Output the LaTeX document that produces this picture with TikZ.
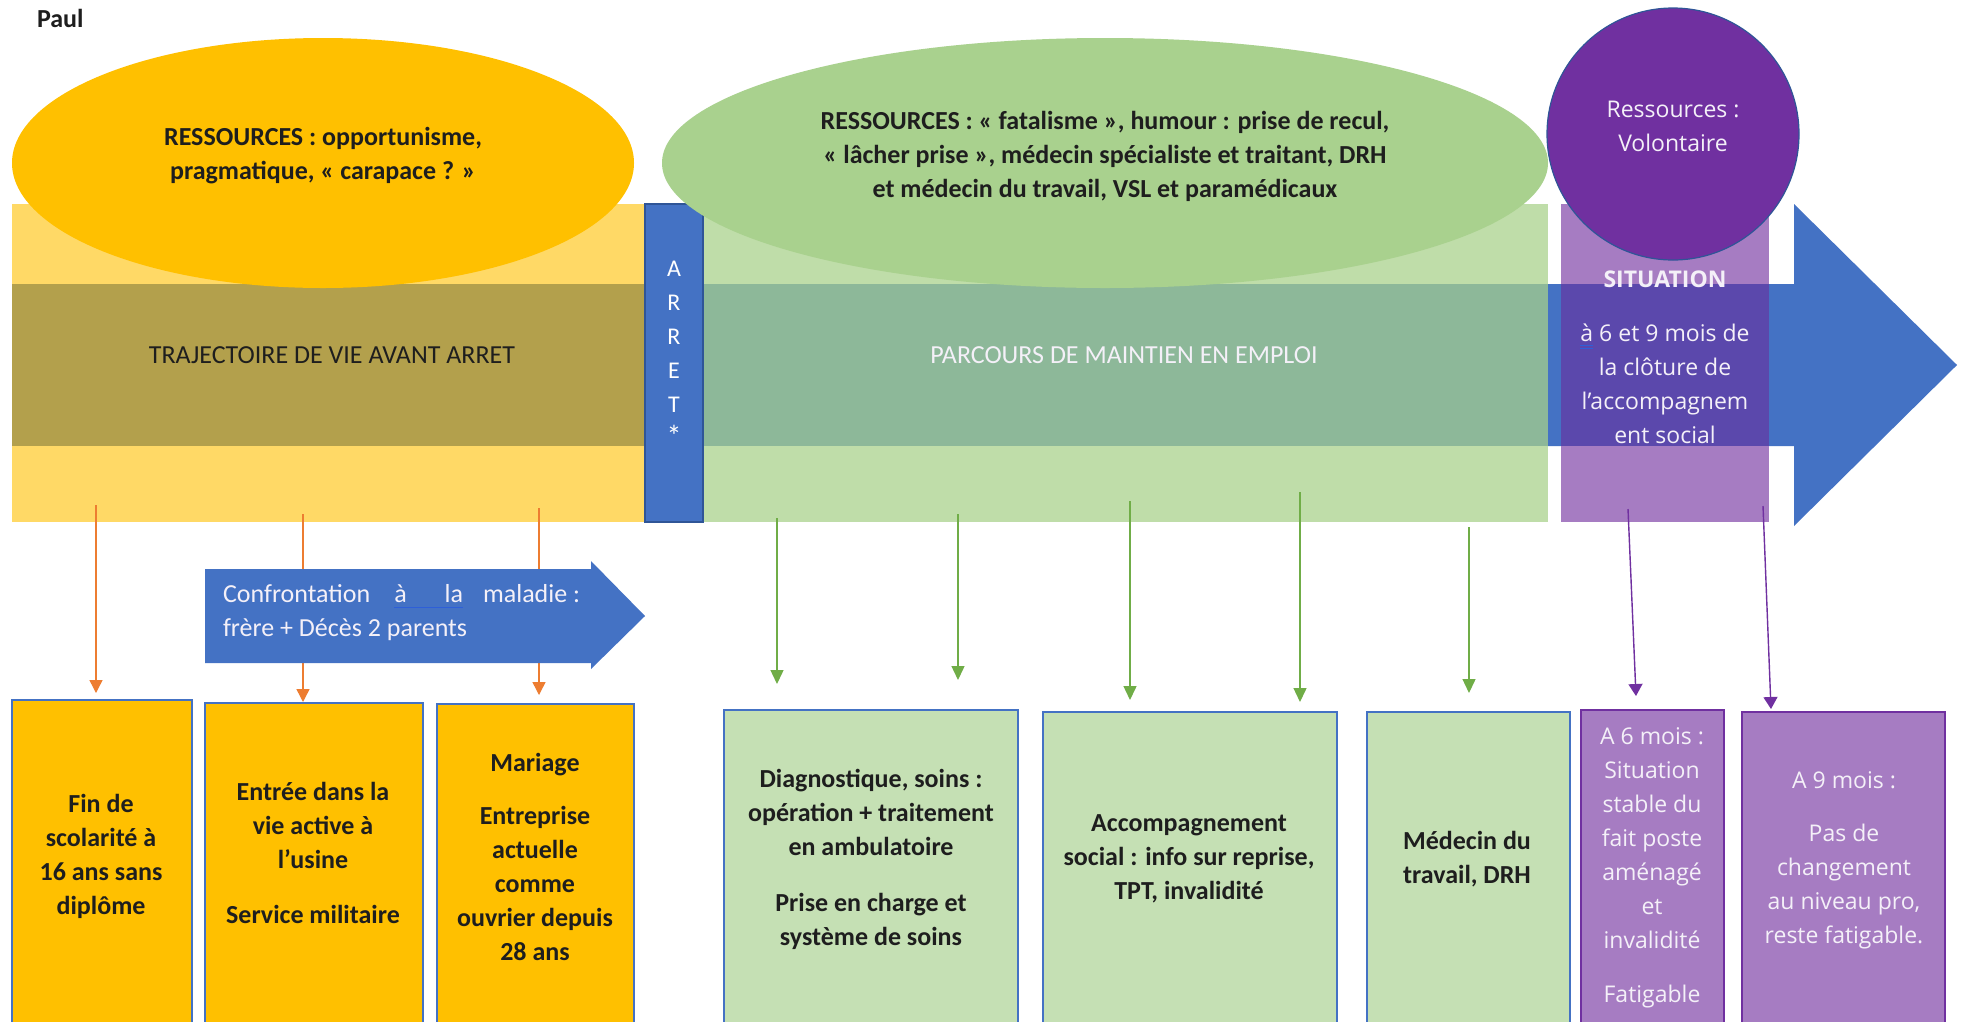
\documentclass[tikz,border=0pt]{standalone}
\usepackage{fontspec}
\setmainfont{Carlito}
\newfontfamily\segoe{Open Sans}
\usetikzlibrary{arrows.meta,shapes.geometric}

\definecolor{cYelL}{HTML}{FFD966}
\definecolor{cYelD}{HTML}{B3A04C}
\definecolor{cYelE}{HTML}{FFC000}
\definecolor{cGrnL}{HTML}{BFDDA9}
\definecolor{cTeal}{HTML}{8DB899}
\definecolor{cGrnE}{HTML}{A9D18E}
\definecolor{cGrnBox}{HTML}{C5E0B4}
\definecolor{cBlue}{HTML}{4472C4}
\definecolor{cBlueDk}{HTML}{2F5597}
\definecolor{cUl}{HTML}{2E5FD8}
\definecolor{cPurL}{HTML}{A67CC2}
\definecolor{cPurD}{HTML}{5B48AC}
\definecolor{cPurC}{HTML}{7030A0}
\definecolor{cOrange}{HTML}{ED7D31}
\definecolor{cGrnArr}{HTML}{70AD47}
\definecolor{cInk}{HTML}{1E1E1E}
\definecolor{cPale}{HTML}{F4F0F8}

\tikzset{
  every node/.style={inner sep=0pt, outer sep=0pt},
  cal/.style={font=\fontsize{26}{34}\selectfont},
  calb/.style={font=\fontsize{26}{34}\selectfont\bfseries, text=cInk},
  seg/.style={font=\segoe\fontsize{23}{34}\selectfont, text=cPale},
  txt/.style={align=center},
  ybox/.style={draw=cBlue, line width=1.3pt, fill=cYelE, anchor=north west},
  gbox/.style={draw=cBlue, line width=1.3pt, fill=cGrnBox, anchor=north west},
  pbox/.style={draw=cPurC, line width=1.3pt, fill=cPurL, anchor=north west},
  oarr/.style={draw=cOrange, line width=1.4pt, -{Triangle[width=13pt,length=13pt]}},
  garr/.style={draw=cGrnArr, line width=1.4pt, -{Triangle[width=13pt,length=14pt]}},
  parr/.style={draw=cPurC, line width=1.4pt, -{Triangle[width=14pt,length=12pt]}},
}

\begin{document}
\begin{tikzpicture}[x=1pt,y=-1pt]
\useasboundingbox (0,0) rectangle (1964,1021);
\clip (0,0) rectangle (1964,1021);
\fill[white] (0,0) rectangle (1964,1021);

% large timeline arrow running under the three phases
\fill[cBlue] (12,284) -- (1794,284) -- (1794,204) -- (1957,365)
  -- (1794,526) -- (1794,446) -- (12,446) -- cycle;

% phase bands
\fill[cYelL] (12,204) rectangle (645,522);
\fill[cYelD] (12,284) rectangle (645,446);
\fill[cGrnL] (703,204) rectangle (1548,522);
\fill[cTeal] (703,284) rectangle (1548,446);
\fill[cPurL] (1561,204) rectangle (1769,522);
\fill[cPurD] (1561,284) rectangle (1769,446);

\node[cal, text=cInk] (trajet) at (332,355) {TRAJECTOIRE DE VIE AVANT ARRET};
\node[cal, text=cPale] (parcours) at (1124,355) {PARCOURS DE MAINTIEN EN EMPLOI};
\node[seg, txt] (situation) at (1665,357) {\textbf{SITUATION}\\[20pt]%
  \rlap{\color{cUl}\rule[-5pt]{13pt}{1pt}}\rlap{\color{cUl}\rule[-8pt]{13pt}{1pt}}à 6 et 9 mois de\\la clôture de\\l’accompagnem\\ent social};

% stop marker
\node[draw=cBlueDk, line width=1.2pt, fill=cBlue, minimum width=58pt, minimum height=318pt,
      anchor=north west] (arret) at (645,204) {};
\node[cal, txt, text=white, font=\fontsize{24}{34}\selectfont] (arretlbl) at (674,354)
  {A\\R\\R\\E\\T\\{\fontsize{30}{34}\selectfont *}};

% resources
\node[ellipse, fill=cYelE, minimum width=622pt, minimum height=250pt] (resA) at (323,163) {};
\node[calb, txt] (resAtxt) at (323,156)
  {RESSOURCES : opportunisme,\\pragmatique, « carapace ? »};
\node[ellipse, fill=cGrnE, minimum width=886pt, minimum height=250pt] (resB) at (1105,163) {};
\node[calb, txt] (resBtxt) at (1105,156)
  {RESSOURCES : « fatalisme », humour : prise de recul,\\
   « lâcher prise », médecin spécialiste et traitant, DRH\\
   et médecin du travail, VSL et paramédicaux};
\node[circle, fill=cPurC, draw=cBlueDk, line width=1.2pt, minimum size=252pt] (resC) at (1673,134) {};
\node[seg, txt] (resCtxt) at (1673,126) {Ressources :\\Volontaire};

\node[calb, anchor=west] (paul) at (37,18) {Paul};

% event anchors
\coordinate (o1s) at (96,505);  \coordinate (o1e) at (96,693);
\coordinate (o2s) at (303,514); \coordinate (o2e) at (303,702);
\coordinate (o3s) at (539,508); \coordinate (o3e) at (539,695);
\coordinate (g1s) at (777,518); \coordinate (g1e) at (777,684);
\coordinate (g2s) at (958,514); \coordinate (g2e) at (958,680);
\coordinate (g3s) at (1130,501); \coordinate (g3e) at (1130,700);
\coordinate (g4s) at (1300,492); \coordinate (g4e) at (1300,702);
\coordinate (g5s) at (1469,527); \coordinate (g5e) at (1469,693);
\coordinate (p1s) at (1628,509); \coordinate (p1e) at (1636,696);
\coordinate (p2s) at (1763,506); \coordinate (p2e) at (1771,709);

\draw[oarr] (o1s) -- (o1e);
\draw[oarr] (o2s) -- (o2e);
\draw[oarr] (o3s) -- (o3e);

% illness arrow
\fill[cBlue] (205,569) -- (591,569) -- (591,561) -- (645,616) -- (591,669)
  -- (591,663) -- (205,663) -- cycle;
\node[font=\fontsize{26}{34}\selectfont, text=cPale, align=left, anchor=west] (confront) at (223,613)
  {Confrontation\hspace{24pt}\rlap{\color{cUl}\rule[-5pt]{69pt}{1.2pt}}à\hspace{38pt}la\hspace{20pt}maladie :\\
   frère + Décès 2 parents};

\draw[garr] (g1s) -- (g1e);
\draw[garr] (g2s) -- (g2e);
\draw[garr] (g3s) -- (g3e);
\draw[garr] (g4s) -- (g4e);
\draw[garr] (g5s) -- (g5e);
\draw[parr] (p1s) -- (p1e);
\draw[parr] (p2s) -- (p2e);

% event boxes
\node[ybox, minimum width=180pt, minimum height=340pt] (b1) at (12,700) {};
\node[ybox, minimum width=218pt, minimum height=340pt] (b2) at (205,703) {};
\node[ybox, minimum width=197pt, minimum height=340pt] (b3) at (437,704) {};
\node[gbox, minimum width=294pt, minimum height=340pt] (b4) at (724,710) {};
\node[gbox, minimum width=294pt, minimum height=340pt] (b5) at (1043,712) {};
\node[gbox, minimum width=203pt, minimum height=340pt] (b6) at (1367,712) {};
\node[pbox, minimum width=143pt, minimum height=340pt] (b7) at (1581,710) {};
\node[pbox, minimum width=203pt, minimum height=340pt] (b8) at (1742,712) {};

\node[calb, txt] (t1) at (101,856) {Fin de\\scolarité à\\16 ans sans\\diplôme};
\node[calb, txt] (t2) at (313,853) {Entrée dans la\\vie active à\\l’usine\\[21pt]Service militaire};
\node[calb, txt] (t3) at (535,857) {Mariage\\[19pt]Entreprise\\actuelle\\comme\\ouvrier depuis\\28 ans};
\node[calb, txt] (t4) at (871,859) {Diagnostique, soins :\\opération + traitement\\en ambulatoire\\[22pt]Prise en charge et\\système de soins};
\node[calb, txt] (t5) at (1189,859) {Accompagnement\\social : info sur reprise,\\TPT, invalidité};
\node[calb, txt] (t6) at (1467,859) {Médecin du\\travail, DRH};
\node[seg, txt] (t7) at (1652,868) {A 6 mois :\\Situation\\stable du\\fait poste\\aménagé\\et\\invalidité\\[20pt]Fatigable};
\node[seg, txt] (t8) at (1844,860) {A 9 mois :\\[19pt]Pas de\\changement\\au niveau pro,\\reste fatigable.};
\end{tikzpicture}
\end{document}
